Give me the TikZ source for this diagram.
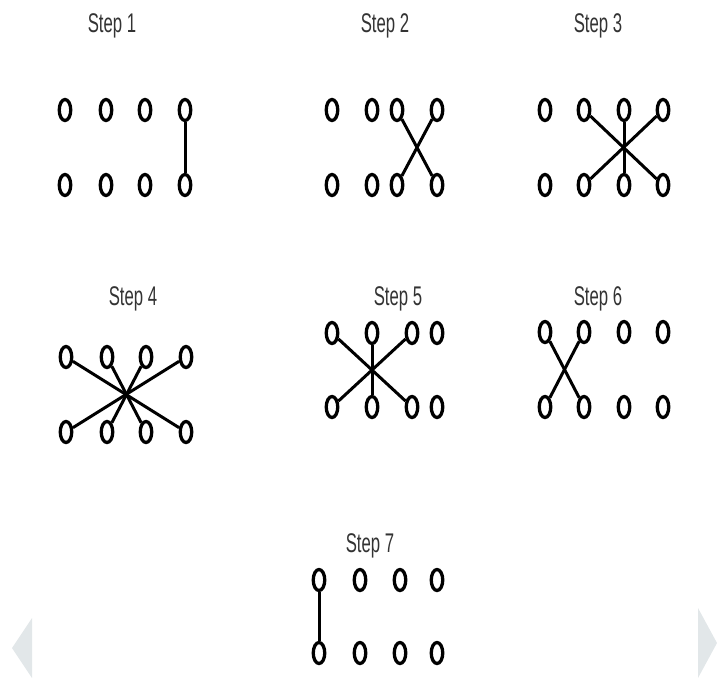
\documentclass[tikz,border=0pt]{standalone}
\usepackage{fontspec}
\setmainfont{Liberation Sans}
\usepackage{graphicx}
\usepackage{tikz}
\usetikzlibrary{shapes.geometric}
\definecolor{titlegray}{HTML}{333333}
\definecolor{navgray}{HTML}{E2E7E9}
\newcommand{\steptext}[1]{\scalebox{0.62}[1]{#1}}

\begin{document}
\begin{tikzpicture}[x=1pt,y=-1pt,
  ring/.style={draw,ellipse,line width=3.3pt,minimum width=11.5pt,minimum height=21pt,inner sep=0pt},
  wire/.style={line width=3pt},
  steptitle/.style={text=titlegray,font=\fontsize{27}{27}\selectfont,inner sep=0pt}]
\path[use as bounding box] (0,0) rectangle (719,688);
% step 1
\node[steptitle] (t1) at (112,26) {\steptext{Step 1}};
\node[ring] (s1t1) at (65,110) {};
\node[ring] (s1t2) at (106,110) {};
\node[ring] (s1t3) at (145,110) {};
\node[ring] (s1t4) at (185,110) {};
\node[ring] (s1b1) at (65,185) {};
\node[ring] (s1b2) at (106,185) {};
\node[ring] (s1b3) at (145,185) {};
\node[ring] (s1b4) at (185,185) {};
\draw[wire] (s1t4)--(s1b4);
% step 2
\node[steptitle] (t2) at (385,26) {\steptext{Step 2}};
\node[ring] (s2t1) at (332,110) {};
\node[ring] (s2t2) at (372,110) {};
\node[ring] (s2t3) at (397,110) {};
\node[ring] (s2t4) at (437,110) {};
\node[ring] (s2b1) at (332,185) {};
\node[ring] (s2b2) at (372,185) {};
\node[ring] (s2b3) at (397,185) {};
\node[ring] (s2b4) at (437,185) {};
\draw[wire] (s2t3)--(s2b4);
\draw[wire] (s2t4)--(s2b3);
% step 3
\node[steptitle] (t3) at (598,26) {\steptext{Step 3}};
\node[ring] (s3t1) at (545,110) {};
\node[ring] (s3t2) at (584,110) {};
\node[ring] (s3t3) at (624,110) {};
\node[ring] (s3t4) at (663,110) {};
\node[ring] (s3b1) at (545,185) {};
\node[ring] (s3b2) at (584,185) {};
\node[ring] (s3b3) at (624,185) {};
\node[ring] (s3b4) at (663,185) {};
\draw[wire] (s3t2)--(s3b4);
\draw[wire] (s3t3)--(s3b3);
\draw[wire] (s3t4)--(s3b2);
% step 4
\node[steptitle] (t4) at (133,299) {\steptext{Step 4}};
\node[ring] (s4t1) at (66,357) {};
\node[ring] (s4t2) at (107,357) {};
\node[ring] (s4t3) at (146,357) {};
\node[ring] (s4t4) at (186,357) {};
\node[ring] (s4b1) at (66,432) {};
\node[ring] (s4b2) at (107,432) {};
\node[ring] (s4b3) at (146,432) {};
\node[ring] (s4b4) at (186,432) {};
\draw[wire] (s4t1)--(s4b4);
\draw[wire] (s4t2)--(s4b3);
\draw[wire] (s4t3)--(s4b2);
\draw[wire] (s4t4)--(s4b1);
% step 5
\node[steptitle] (t5) at (398,299) {\steptext{Step 5}};
\node[ring] (s5t1) at (332,333) {};
\node[ring] (s5t2) at (372,333) {};
\node[ring] (s5t3) at (412,333) {};
\node[ring] (s5t4) at (437,333) {};
\node[ring] (s5b1) at (332,407) {};
\node[ring] (s5b2) at (372,407) {};
\node[ring] (s5b3) at (412,407) {};
\node[ring] (s5b4) at (437,407) {};
\draw[wire] (s5t1)--(s5b3);
\draw[wire] (s5t2)--(s5b2);
\draw[wire] (s5t3)--(s5b1);
% step 6
\node[steptitle] (t6) at (598,299) {\steptext{Step 6}};
\node[ring] (s6t1) at (545,332) {};
\node[ring] (s6t2) at (584,332) {};
\node[ring] (s6t3) at (624,332) {};
\node[ring] (s6t4) at (663,332) {};
\node[ring] (s6b1) at (545,407) {};
\node[ring] (s6b2) at (584,407) {};
\node[ring] (s6b3) at (624,407) {};
\node[ring] (s6b4) at (663,407) {};
\draw[wire] (s6t1)--(s6b2);
\draw[wire] (s6t2)--(s6b1);
% step 7
\node[steptitle] (t7) at (370,546) {\steptext{Step 7}};
\node[ring] (s7t1) at (319,580) {};
\node[ring] (s7t2) at (360,580) {};
\node[ring] (s7t3) at (400,580) {};
\node[ring] (s7t4) at (437,580) {};
\node[ring] (s7b1) at (319,653) {};
\node[ring] (s7b2) at (360,653) {};
\node[ring] (s7b3) at (400,653) {};
\node[ring] (s7b4) at (437,653) {};
\draw[wire] (s7t1)--(s7b1);
% arrows at the edges
\fill[navgray] (32,618)--(12,648)--(32,678)--cycle;
\fill[navgray] (698,608)--(717,643)--(698,678)--cycle;
\end{tikzpicture}
\end{document}
